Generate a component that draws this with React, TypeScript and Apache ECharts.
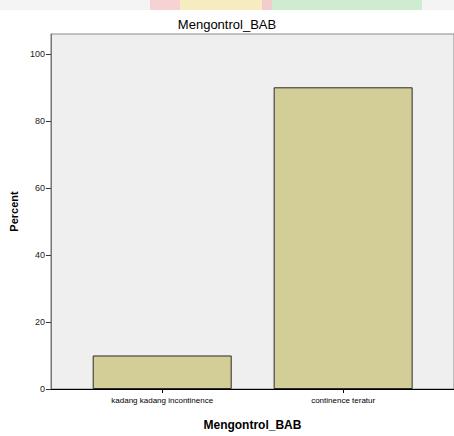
import React, { useEffect, useRef } from "react";
import * as echarts from "echarts";

const categories = ["kadang kadang incontinence", "continence teratur"];
const percents = [10, 90];
const yTicks = [0, 20, 40, 60, 80, 100];
const titleText = "Mengontrol_BAB";
const yName = "Percent";

export default function App() {
  const ref = useRef<HTMLDivElement>(null);
  useEffect(() => {
    if (!ref.current) return;
    const chart = echarts.init(ref.current, null, { renderer: "svg" });
    const catIdx = categories.map((_, i) => i);
    chart.setOption({
      animation: false,
      backgroundColor: "#ffffff",
      textStyle: { fontFamily: "Liberation Sans, Arial, sans-serif" },
      title: {
        text: titleText,
        left: "center",
        top: 13,
        textStyle: { fontSize: 13, fontWeight: "normal", color: "#000" },
      },
      graphic: [
        { type: "rect", shape: { x: 0, y: 0, width: 454, height: 10 }, style: { fill: "#f4f4f4" }, silent: true },
        { type: "rect", shape: { x: 150, y: 0, width: 40, height: 10 }, style: { fill: "#f6d2d2" }, silent: true },
        { type: "rect", shape: { x: 180, y: 0, width: 85, height: 10 }, style: { fill: "#f7ecc0" }, silent: true },
        { type: "rect", shape: { x: 262, y: 0, width: 10, height: 10 }, style: { fill: "#f3cccc" }, silent: true },
        { type: "rect", shape: { x: 272, y: 0, width: 150, height: 10 }, style: { fill: "#d0ecd0" }, silent: true },
      ],
      grid: {
        left: 45,
        top: 34,
        right: -2,
        bottom: 43,
        show: true,
        backgroundColor: "#efefef",
        borderColor: "#8a8a8a",
        borderWidth: 1,
      },
      xAxis: {
        type: "value",
        min: -0.615,
        max: 1.6126,
        name: titleText,
        nameLocation: "middle",
        nameGap: 30,
        nameTextStyle: { fontSize: 12, fontWeight: "bold", color: "#000" },
        splitLine: { show: false },
        axisLine: { show: true, onZero: false, lineStyle: { color: "#000", width: 1 } },
        axisTick: { show: true, length: 4, lineStyle: { color: "#000" }, customValues: catIdx },
        axisLabel: {
          fontSize: 8,
          color: "#000",
          margin: 7,
          customValues: catIdx,
          formatter: (v: number) => categories[Math.round(v)] ?? "",
        },
      },
      yAxis: {
        type: "value",
        min: 0,
        max: 105.9,
        name: yName,
        nameLocation: "middle",
        nameGap: 26,
        nameRotate: 90,
        nameTextStyle: { fontSize: 11, fontWeight: "bold", color: "#000" },
        splitLine: { show: false },
        axisLine: { show: true, onZero: false, lineStyle: { color: "#777", width: 1 } },
        axisTick: { show: true, length: 5, lineStyle: { color: "#333" }, customValues: yTicks },
        axisLabel: { fontSize: 9, color: "#222", margin: 6, customValues: yTicks },
      },
      series: [
        {
          type: "bar",
          barWidth: 139,
          data: percents.map((p, i) => [i, p]),
          itemStyle: { color: "#d3ce97", borderColor: "#2a2a2a", borderWidth: 1 },
        },
      ],
    });
    return () => chart.dispose();
  }, []);
  return (
    <div
      ref={ref}
      style={{ position: "fixed", left: 0, top: 0, width: 454, height: 436 }}
    />
  );
}
